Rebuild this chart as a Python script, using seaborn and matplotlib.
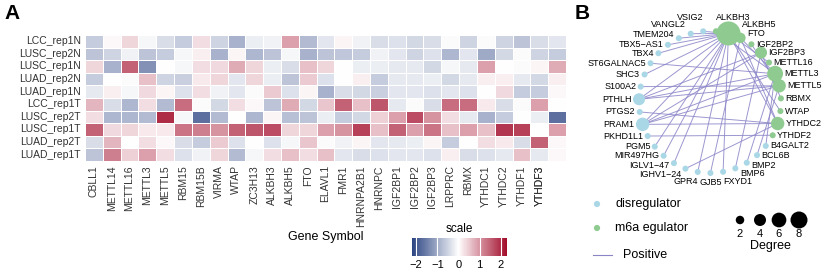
import numpy as np
import pandas as pd
import seaborn as sns
import matplotlib.pyplot as plt
from matplotlib.colors import LinearSegmentedColormap

# ---------------- panel A data ----------------
samples = ['LCC_rep1N', 'LUSC_rep2N', 'LUSC_rep1N', 'LUAD_rep2N', 'LUAD_rep1N',
           'LCC_rep1T', 'LUSC_rep2T', 'LUSC_rep1T', 'LUAD_rep2T', 'LUAD_rep1T']
genes = ['CBLL1', 'METTL14', 'METTL16', 'METTL3', 'METTL5', 'RBM15', 'RBM15B', 'VIRMA',
         'WTAP', 'ZC3H13', 'ALKBH3', 'ALKBH5', 'FTO', 'ELAVL1', 'FMR1', 'HNRNPA2B1',
         'HNRNPC', 'IGF2BP1', 'IGF2BP2', 'IGF2BP3', 'LRPPRC', 'RBMX', 'YTHDC1', 'YTHDC2',
         'YTHDF1', 'YTHDF2', 'YTHDF3']
scale_values = [
    [-0.6, 0.05, 0.4, -0.1, -0.4, -0.6, 0.3, -0.5, -0.9, -0.2, -0.15, 0.9, -0.8, -0.3, 0.1, -0.15, -0.4, -0.35, -0.45, -0.4, -0.05, -0.5, -0.05, -0.5, -0.7, -0.4, -0.3],
    [-0.7, -0.5, -0.15, -0.7, -0.6, -0.1, 0.15, -0.9, 0.1, -0.85, -0.7, -0.1, -0.9, -0.7, -0.65, -0.6, -0.15, -0.3, -0.5, -0.35, -0.85, -0.3, -1.0, -0.45, -0.05, -0.5, -0.6],
    [0.4, -0.9, 1.5, -1.3, 0.0, -0.1, 0.3, 0.35, 0.8, 0.4, -0.2, -0.4, 0.6, 0.4, 0.0, -0.2, -0.2, -0.25, -0.25, -0.45, -0.1, -0.25, 0.9, 0.0, -0.05, 0.1, 0.8],
    [-0.6, 0.0, -0.05, 0.6, -0.5, -0.55, 0.2, 0.4, -0.3, 0.4, -0.2, -0.7, 0.5, -0.35, 0.0, 0.15, -0.6, -0.25, -0.25, -0.2, -0.45, -0.25, 0.15, 0.15, -0.25, -0.45, 0.15],
    [-0.25, 0.15, -0.1, 0.35, 0.1, -0.35, 0.3, -0.15, -0.3, -0.05, 0.5, -0.35, 0.1, -0.9, -0.4, -0.45, -0.55, -0.3, -0.3, -0.35, -0.3, -0.35, 0.0, 0.35, -0.6, -0.6, 0.05],
    [0.7, -0.4, -0.85, 0.3, -0.8, 1.4, -0.05, -0.45, 0.3, 0.05, -0.7, 0.8, -0.45, 0.55, 1.5, 0.6, 1.6, -0.25, -0.05, -0.4, 1.4, 1.4, 0.2, -0.4, -0.05, 0.9, 0.0],
    [0.3, -0.85, -0.85, -0.8, 2.0, -0.1, -1.7, -0.8, 0.0, -0.85, 0.1, -0.75, -0.7, -0.2, -0.6, -0.45, 0.45, 0.9, 1.7, 1.0, 0.3, -0.25, -0.9, -0.6, 0.0, -0.2, -1.7],
    [1.5, 0.35, 0.4, 0.2, 0.2, 1.3, 1.2, 1.0, 1.5, 1.6, 1.7, 0.4, 0.4, 0.9, 1.0, 1.8, 0.6, 1.5, 0.9, 1.3, 0.6, 0.9, 0.6, 1.9, 1.8, 0.0, 0.9],
    [-0.4, 0.7, 0.0, 0.3, 0.05, -0.4, -0.6, 0.5, -0.35, 0.0, -0.35, -0.1, 0.55, -0.05, -0.15, 0.1, -0.3, -0.25, -0.2, 0.1, -0.6, 0.0, 0.3, 0.2, -0.4, 1.5, 0.05],
    [-0.7, 1.2, 0.45, 0.9, 0.3, -0.35, -0.15, 0.4, -0.8, -0.1, 0.3, 0.6, 0.3, 0.6, -0.3, -0.4, -0.35, -0.3, -0.3, -0.35, 0.15, -0.4, -0.35, -0.25, 0.6, -0.25, 0.05],
]

# ---------------- panel B data ----------------
regulators = ['ALKBH3', 'ALKBH5', 'FTO', 'IGF2BP2', 'IGF2BP3', 'METTL16', 'METTL3',
              'METTL5', 'RBMX', 'WTAP', 'YTHDC2', 'YTHDF2']
disregulators = ['B4GALT2', 'BCL6B', 'BMP2', 'BMP6', 'FXYD1', 'GJB5', 'GPR4', 'IGHV1−24',
                 'IGLV1−47', 'MIR497HG', 'PGM5', 'PKHD1L1', 'PRAM1', 'PTGS2', 'PTHLH',
                 'S100A2', 'SHC3', 'ST6GALNAC5', 'TBX4', 'TBX5−AS1', 'TMEM204', 'VANGL2', 'VSIG2']
edges = [
    ('VSIG2', 'ALKBH5'), ('VANGL2', 'ALKBH5'), ('TMEM204', 'ALKBH5'), ('TBX5−AS1', 'ALKBH5'),
    ('TBX4', 'ALKBH5'), ('ST6GALNAC5', 'METTL3'), ('SHC3', 'ALKBH5'), ('S100A2', 'METTL5'),
    ('PTHLH', 'ALKBH5'), ('PTHLH', 'METTL3'), ('PTHLH', 'IGF2BP3'), ('PTHLH', 'METTL5'),
    ('PTGS2', 'YTHDC2'), ('PRAM1', 'ALKBH5'), ('PRAM1', 'METTL3'), ('PRAM1', 'IGF2BP3'),
    ('PRAM1', 'YTHDC2'), ('PRAM1', 'METTL5'), ('PKHD1L1', 'YTHDF2'), ('PGM5', 'ALKBH5'),
    ('MIR497HG', 'ALKBH5'), ('IGLV1−47', 'ALKBH5'), ('IGHV1−24', 'YTHDC2'), ('GPR4', 'ALKBH5'),
    ('GJB5', 'FTO'), ('FXYD1', 'ALKBH5'), ('BMP6', 'IGF2BP3'), ('BMP2', 'METTL3'),
    ('BCL6B', 'METTL5'), ('B4GALT2', 'METTL3'),
    ('ALKBH5', 'WTAP'), ('ALKBH5', 'YTHDC2'), ('ALKBH5', 'METTL16'), ('METTL3', 'FTO'),
    ('METTL3', 'ALKBH3'), ('METTL5', 'IGF2BP2'), ('YTHDC2', 'FTO'), ('IGF2BP3', 'RBMX'),
]
degree_breaks = [2, 4, 6, 8]

plt.rcParams['font.family'] = ['Liberation Sans', 'DejaVu Sans']
fig = plt.figure(figsize=(8.24, 2.75), dpi=100)
W, H = 824, 275

# ---------------- heatmap ----------------
df = pd.DataFrame(scale_values, index=samples, columns=genes)
cmap = LinearSegmentedColormap.from_list('bwr_pheat', ['#233d7d', '#ffffff', '#a30e2c'])
ax_hm = fig.add_axes([85 / W, 1 - 161 / H, 481 / W, 126 / H])
cax = fig.add_axes([412 / W, 1 - 256 / H, 95 / W, 18 / H])
sns.heatmap(df, cmap=cmap, vmin=-2.2, vmax=2.3, center=0, linewidths=0.6, linecolor='white',
            xticklabels=True, yticklabels=True,
            ax=ax_hm, cbar_ax=cax, cbar_kws={'orientation': 'horizontal', 'ticks': [-2, -1, 0, 1, 2]})
# the last two gene labels sit on top of each other, as in the original figure
tick_pos = list(np.arange(len(genes) - 1) + 0.5) + [len(genes) - 1.5]
ax_hm.set_xticks(tick_pos)
ax_hm.set_xticklabels(genes, rotation=90, fontsize=7.5, color='#333333')
ax_hm.set_yticks(np.arange(len(samples)) + 0.5)
ax_hm.set_yticklabels(samples, rotation=0, fontsize=7.5, color='#333333')
ax_hm.tick_params(length=0, pad=3)
ax_hm.set_xlabel('Gene Symbol', fontsize=9, labelpad=3)
ax_hm.set_ylabel('')

cbar = ax_hm.collections[0].colorbar
cbar.outline.set_visible(False)
cax.tick_params(length=0, labelsize=8, pad=3)
for t in [-2, -1, 0, 1, 2]:
    cax.axvline(t, color='white', lw=0.8)
cax.set_title('scale', fontsize=8.5, pad=4)

# ---------------- network ----------------
R = 71.0
cx, cy = 710, 102
ax_net = fig.add_axes([580 / W, 0, 244 / W, 1])
ax_net.set_xlim((580 - cx) / R, (824 - cx) / R)
ax_net.set_ylim((cy - 275) / R, cy / R)
ax_net.axis('off')

nodes = regulators + disregulators
theta = np.deg2rad(85.2 - np.arange(len(nodes)) * 360 / len(nodes))
deg = {n: 0 for n in nodes}
for a, b in edges:
    deg[a] += 1
    deg[b] += 1
net = pd.DataFrame({'name': nodes, 'x': np.cos(theta), 'y': np.sin(theta),
                    'type': ['m6a egulator'] * len(regulators) + ['disregulator'] * len(disregulators),
                    'degree': [deg[n] for n in nodes]})
pos = net.set_index('name')[['x', 'y']]

for a, b in edges:
    ax_net.plot([pos.loc[a, 'x'], pos.loc[b, 'x']], [pos.loc[a, 'y'], pos.loc[b, 'y']],
                color='#8b85c8', lw=0.7, alpha=0.85, zorder=1)

pal = {'disregulator': '#a9d7e6', 'm6a egulator': '#8fcb90'}
size_of = lambda d: 18.7 * d
sns.scatterplot(data=net, x='x', y='y', hue='type', palette=pal, size='degree',
                sizes=(size_of(1), size_of(16)), size_norm=(1, 16), legend=False,
                edgecolor='none', ax=ax_net, zorder=3)

for _, r in net.iterrows():
    ang = np.arctan2(r.y, r.x)
    c, s = np.cos(ang), np.sin(ang)
    rad = np.sqrt(size_of(r.degree)) / 2 * 100 / 72          # node radius in px
    if s > 0.99:
        dx, dy, ha, va = 0, rad + 6, ('left' if c > 0 else 'right'), 'bottom'
    elif s < -0.97:
        dx, dy, va = 0, -(rad + 2), 'top'
        ha = 'right' if c < -0.05 else ('left' if c > 0.05 else 'center')
    else:
        dx = np.sign(c) * (rad + 1.5)
        if s > 0:
            dy = 80 * max(s - 0.85, 0)
        else:
            dy = -42 * max(-s - 0.8, 0)
        ha, va = ('left' if c > 0 else 'right'), 'center'
    ax_net.text(r.x + dx / R, r.y + dy / R, r['name'], fontsize=6.5, ha=ha, va=va, zorder=4)

# legends
px = lambda v: (v - cx) / R
py = lambda v: (cy - v) / R
for lab, yy in [('disregulator', 204), ('m6a egulator', 228)]:
    ax_net.scatter(px(597), py(yy), s=20, color=pal[lab], edgecolor='none')
    ax_net.text(px(615), py(yy), lab, fontsize=9, va='center')
ax_net.plot([px(593), px(612)], [py(255), py(255)], color='#8b85c8', lw=0.8)
ax_net.text(px(623), py(255), 'Positive', fontsize=9, va='center')

for d, xx in zip(degree_breaks, [740, 760, 779, 799]):
    ax_net.scatter(px(xx), py(220), s=size_of(d), color='black', edgecolor='none')
    ax_net.text(px(xx), py(229), str(d), fontsize=8, ha='center', va='top')
ax_net.text(px(770), py(240), 'Degree', fontsize=9, ha='center', va='top')

fig.text(4 / W, 1 - 4 / H, 'A', fontsize=15, fontweight='bold', va='top')
fig.text(575 / W, 1 - 4 / H, 'B', fontsize=15, fontweight='bold', va='top')

fig.savefig('out.png', dpi=100)
